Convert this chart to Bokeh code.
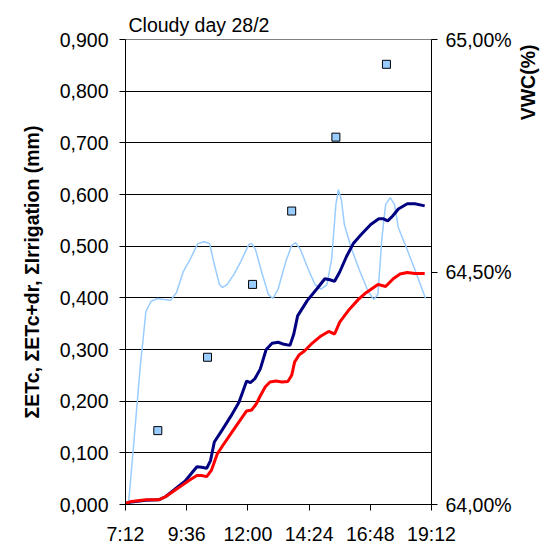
from bokeh.plotting import figure
from bokeh.models import Range1d, LinearAxis, FixedTicker
from bokeh.embed import file_html
from bokeh.resources import INLINE
import math

# ---------------- data ----------------
title_text = "Cloudy day 28/2"
left_label = "ΣETc, ΣETc+dr, ΣIrrigation (mm)"
right_label = "VWC(%)"

x_ticks = ["7:12", "9:36", "12:00", "14:24", "16:48", "19:12"]
y_ticks = [0.0, 0.1, 0.2, 0.3, 0.4, 0.5, 0.6, 0.7, 0.8, 0.9]
y_tick_labels = ["0,000", "0,100", "0,200", "0,300", "0,400", "0,500",
                 "0,600", "0,700", "0,800", "0,900"]
vwc_ticks = [64.0, 64.5, 65.0]
vwc_tick_labels = ["64,00%", "64,50%", "65,00%"]

# ΣETc+dr (dark blue)
etcdr_time = ["7:12", "7:26", "8:00", "8:30", "8:46", "9:09", "9:32", "10:00", "10:11",
              "10:23", "10:32", "10:41", "11:00", "11:20", "11:39", "11:57", "12:06",
              "12:16", "12:29", "12:43", "12:57", "13:11", "13:25", "13:39", "13:48",
              "13:57", "14:20", "14:43", "15:01", "15:13", "15:24", "15:36", "15:52",
              "16:08", "16:26", "16:49", "17:08", "17:19", "17:29", "17:40", "17:54",
              "18:15", "18:33", "18:56"]
etcdr_val = [0.002, 0.005, 0.008, 0.009, 0.015, 0.030, 0.045, 0.073, 0.072,
             0.070, 0.085, 0.121, 0.145, 0.171, 0.198, 0.239, 0.236,
             0.243, 0.262, 0.300, 0.312, 0.314, 0.310, 0.308, 0.330,
             0.365, 0.395, 0.418, 0.437, 0.435, 0.432, 0.450, 0.480,
             0.505, 0.522, 0.542, 0.553, 0.553, 0.549, 0.558, 0.572,
             0.582, 0.582, 0.578]

# ΣETc (red)
etc_time = ["7:12", "7:26", "8:00", "8:30", "8:46", "9:09", "9:25", "9:44", "10:00",
            "10:11", "10:23", "10:34", "10:48", "11:04", "11:20", "11:39", "11:57",
            "12:09", "12:20", "12:29", "12:41", "12:52", "13:06", "13:20", "13:34",
            "13:43", "13:50", "14:01", "14:13", "14:31", "14:50", "15:10", "15:24",
            "15:36", "15:59", "16:20", "16:38", "17:06", "17:24", "17:42", "17:58",
            "18:15", "18:33", "18:56"]
etc_val = [0.002, 0.006, 0.009, 0.009, 0.015, 0.028, 0.037, 0.048, 0.056,
           0.056, 0.054, 0.066, 0.098, 0.118, 0.137, 0.160, 0.181,
           0.183, 0.195, 0.210, 0.228, 0.237, 0.239, 0.237, 0.238,
           0.250, 0.276, 0.290, 0.297, 0.312, 0.325, 0.335, 0.330,
           0.353, 0.378, 0.397, 0.410, 0.426, 0.422, 0.437, 0.446,
           0.449, 0.447, 0.447]

# ΣIrrigation (squares)
irr_time = ["8:28", "10:25", "12:11", "13:43", "15:27", "17:26"]
irr_val = [0.143, 0.285, 0.426, 0.568, 0.711, 0.852]

# VWC (light blue, right axis)
vwc_time = ["7:19", "7:35", "7:47", "7:51", "8:00", "8:12", "8:28", "8:42", "8:58",
            "9:12", "9:28", "9:44", "10:02", "10:18", "10:30", "10:41", "10:53",
            "11:00", "11:11", "11:27", "11:43", "12:02", "12:09", "12:18", "12:32",
            "12:48", "12:59", "13:11", "13:29", "13:43", "13:52", "14:04", "14:20",
            "14:38", "14:52", "15:06", "15:17", "15:27", "15:33", "15:40", "15:47",
            "16:03", "16:22", "16:43", "16:56", "17:06", "17:15", "17:24", "17:35",
            "17:45", "17:54", "18:10", "18:33", "18:58"]
vwc_val = [64.000, 64.170, 64.300, 64.334, 64.415, 64.437, 64.443, 64.441, 64.439,
           64.456, 64.501, 64.527, 64.561, 64.565, 64.561, 64.516, 64.473,
           64.467, 64.473, 64.495, 64.522, 64.559, 64.561, 64.548, 64.501,
           64.452, 64.443, 64.463, 64.522, 64.557, 64.563, 64.548, 64.510,
           64.473, 64.463, 64.473, 64.527, 64.645, 64.677, 64.655, 64.602,
           64.552, 64.505, 64.458, 64.441, 64.452, 64.570, 64.645, 64.660,
           64.645, 64.595, 64.559, 64.505, 64.443]


def hrs(s):
    h, m = s.split(":")
    return int(h) + int(m) / 60.0


FONT = "Liberation Sans"
FS = "19.5px"

p = figure(width=552, height=547, output_backend="svg", toolbar_location=None,
           x_range=Range1d(hrs(x_ticks[0]), hrs(x_ticks[-1])),
           y_range=Range1d(y_ticks[0], y_ticks[-1]),
           min_border_left=125, min_border_right=116, min_border_top=39,
           min_border_bottom=41)
p.extra_y_ranges = {"vwc": Range1d(vwc_ticks[0], vwc_ticks[-1])}
p.background_fill_color = "white"
p.border_fill_color = "white"
p.outline_line_color = "#808080"
p.outline_line_width = 1

# title
p.title.text = title_text
p.title.align = "left"
p.title.offset = 3
p.title.standoff = 7
p.title.text_font = FONT
p.title.text_font_size = FS
p.title.text_font_style = "normal"
p.title.text_color = "black"

# grid
p.xgrid.visible = False
p.ygrid.ticker = FixedTicker(ticks=y_ticks)
p.ygrid.grid_line_color = "black"
p.ygrid.grid_line_width = 1

# x axis
xa = p.xaxis[0]
xa.ticker = FixedTicker(ticks=[hrs(t) for t in x_ticks])
xa.major_label_overrides = {hrs(t): t for t in x_ticks}
# left axis
ya = p.yaxis[0]
ya.ticker = FixedTicker(ticks=y_ticks)
ya.major_label_overrides = {v: l for v, l in zip(y_ticks, y_tick_labels)}
ya.axis_label = left_label
ya.axis_label_text_font = FONT
ya.axis_label_text_font_size = FS
ya.axis_label_text_font_style = "bold"
ya.axis_label_text_color = "black"
ya.axis_label_standoff = 14

# right axis
ra = LinearAxis(y_range_name="vwc", ticker=FixedTicker(ticks=vwc_ticks))
ra.major_label_overrides = {v: l for v, l in zip(vwc_ticks, vwc_tick_labels)}
p.add_layout(ra, "right")

for ax in (xa, ya, ra):
    ax.axis_line_color = "black"
    ax.axis_line_width = 1
    ax.major_tick_line_color = "black"
    ax.major_tick_out = 6
    ax.major_tick_in = 0
    ax.minor_tick_line_color = None
    ax.major_label_text_font = FONT
    ax.major_label_text_font_size = FS
    ax.major_label_text_color = "black"
xa.major_label_standoff = 12
ya.major_label_standoff = 11
ra.major_label_standoff = 8

# second right axis that only carries the VWC(%) title; the label reads
# bottom-to-top starting at mid-height, so leading no-break spaces lift it up
ta = LinearAxis(y_range_name="vwc", ticker=FixedTicker(ticks=[]))
ta.axis_line_color = None
ta.major_tick_line_color = None
ta.minor_tick_line_color = None
ta.axis_label = "\u00a0" * 28 + right_label
ta.axis_label_orientation = math.pi / 2
ta.axis_label_standoff = 13
ta.axis_label_text_font = FONT
ta.axis_label_text_font_size = FS
ta.axis_label_text_font_style = "bold"
ta.axis_label_text_color = "black"
p.add_layout(ta, "right")

# series
p.line([hrs(t) for t in vwc_time], vwc_val, y_range_name="vwc",
       line_color="#99CCFF", line_width=1.5)
p.line([hrs(t) for t in etcdr_time], etcdr_val, line_color="#000080", line_width=3)
p.line([hrs(t) for t in etc_time], etc_val, line_color="#FF0000", line_width=3)
p.scatter([hrs(t) for t in irr_time], irr_val, marker="square", size=8,
          fill_color="#99CCFF", line_color="black", line_width=1)

open("out.html", "w").write(file_html(p, INLINE))
